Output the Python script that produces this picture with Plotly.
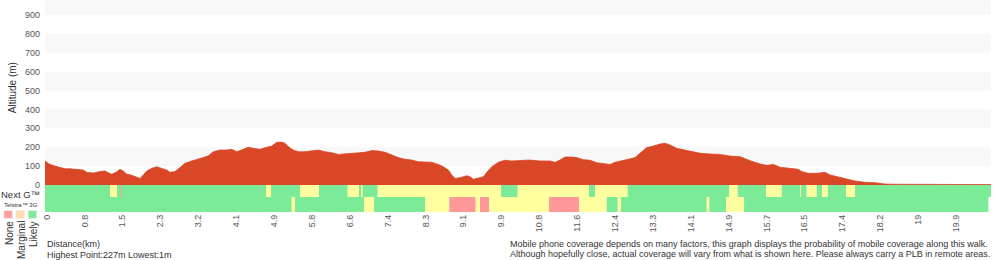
import plotly.graph_objects as go

# ---------------- data ----------------
elev_km = [0.000, 0.109, 0.219, 0.328, 0.438, 0.547, 0.656, 0.766, 0.839, 0.912,
           1.057, 1.204, 1.313, 1.386, 1.460, 1.554, 1.641, 1.713, 1.786, 1.897,
           2.006, 2.079, 2.151, 2.226, 2.335, 2.444, 2.554, 2.663, 2.735, 2.845,
           2.954, 3.064, 3.210, 3.355, 3.464, 3.574, 3.683, 3.830, 3.976, 4.086,
           4.195, 4.340, 4.449, 4.558, 4.705, 4.852, 4.961, 5.070, 5.180, 5.252,
           5.324, 5.434, 5.543, 5.690, 5.836, 5.981, 6.127, 6.274, 6.418, 6.565,
           6.712, 6.856, 7.002, 7.149, 7.294, 7.440, 7.587, 7.731, 7.878, 8.025,
           8.169, 8.316, 8.462, 8.607, 8.716, 8.826, 8.900, 8.972, 9.082, 9.229,
           9.301, 9.373, 9.483, 9.592, 9.667, 9.776, 9.920, 10.066, 10.213, 10.357,
           10.504, 10.613, 10.832, 11.051, 11.160, 11.270, 11.379, 11.526, 11.635, 11.780,
           11.926, 12.073, 12.217, 12.364, 12.473, 12.620, 12.764, 12.911, 13.058, 13.167,
           13.312, 13.458, 13.568, 13.677, 13.824, 13.968, 14.115, 14.334, 14.553, 14.771,
           14.990, 15.209, 15.428, 15.647, 15.793, 15.938, 16.084, 16.303, 16.485, 16.559,
           16.704, 16.888, 17.069, 17.179, 17.360, 17.544, 17.726, 17.945, 18.164, 18.382,
           18.601, 19.039, 19.476, 19.914, 20.352, 20.702]
elev_m = [127, 109, 100, 95, 86, 86, 83, 83, 79, 67,
          63, 71, 74, 65, 57, 67, 83, 74, 58, 51,
          41, 35, 53, 74, 88, 97, 88, 79, 67, 71,
          92, 115, 127, 136, 145, 155, 176, 185, 185, 189,
          176, 189, 200, 194, 189, 200, 206, 226, 227, 221,
          203, 185, 176, 176, 180, 185, 176, 171, 162, 164,
          168, 168, 173, 182, 180, 173, 159, 145, 136, 132,
          123, 120, 120, 109, 97, 79, 53, 35, 39, 49,
          44, 30, 39, 44, 67, 97, 120, 131, 127, 127,
          131, 132, 127, 127, 120, 132, 148, 148, 145, 134,
          131, 118, 113, 109, 120, 127, 136, 145, 176, 198,
          206, 217, 221, 212, 194, 187, 182, 168, 164, 162,
          153, 150, 129, 111, 104, 109, 94, 88, 83, 71,
          62, 62, 67, 53, 41, 32, 21, 14, 12, 5,
          4, 4, 1, 5, 3, 2]

tick_labels = ["0", "0.8", "1.5", "2.3", "3.2", "4.1", "4.9", "5.8", "6.6", "7.4",
               "8.3", "9.1", "9.9", "10.8", "11.6", "12.4", "13.3", "14.1", "14.9",
               "15.7", "16.5", "17.4", "18.2", "19", "19.9"]

# coverage segments: boundaries in km (n+1) and level per segment (n)
nextg_breaks = [0, 1.422, 1.576, 1.663, 1.685, 4.836, 4.946, 5.580, 5.996, 6.624,
                6.878, 6.915, 6.952, 7.280, 9.979, 10.344, 11.903, 12.035, 12.750,
                14.974, 15.158, 15.777, 16.121, 16.521, 16.543, 16.668, 16.887,
                17.003, 17.128, 17.528, 17.725, 20.702]
nextg_levels = ["Likely", "Marginal", "Likely", "None", "Likely", "Marginal", "Likely",
                "Marginal", "Likely", "Marginal", "Likely", "Marginal", "Likely",
                "Marginal", "Likely", "Marginal", "Likely", "Marginal", "Likely",
                "Marginal", "Likely", "Marginal", "Likely", "Marginal", "Likely",
                "Marginal", "Likely", "Marginal", "Likely", "Marginal", "Likely"]

telstra_breaks = [0, 5.399, 5.471, 6.981, 7.200, 8.316, 8.847, 9.425, 9.519, 9.716,
                  11.029, 11.686, 12.292, 12.533, 12.605, 14.480, 14.537, 14.903,
                  15.297, 20.642]
telstra_levels = ["Likely", "Marginal", "Likely", "Marginal", "Likely", "Marginal",
                  "None", "Marginal", "None", "Marginal", "None", "Marginal", "Likely",
                  "Marginal", "Likely", "Marginal", "Likely", "Marginal", "Likely"]

highest = max(elev_m)
lowest = min(elev_m)

# ---------------- styling / layout ----------------
W, H = 1000, 260
ML, MR, MT, MB = 45, 9, 0, 48
PW = W - ML - MR
PH = H - MT - MB
COV_PX = 27
X_MAX = 20.70
Y_MAX = 979.4
STEP = 19.9 / 24
TICK_SHIFT = 0.037
FONT = "Liberation Sans, Arial, Helvetica, sans-serif"
ELEV_COLOR = "#DA4727"
LEVEL_COLORS = {"Likely": "#7CEB98", "Marginal": "#FFFFA0", "None": "#FF9999"}
ROW1 = (0, 12)
ROW2 = (12, 27)


def px(x):
    return (x - ML) / PW


def py(y):
    return (MT + PH - y) / PH


fig = go.Figure()

fig.add_trace(go.Scatter(
    x=elev_km, y=elev_m, mode="lines", fill="tozeroy",
    line=dict(color=ELEV_COLOR, width=0.8), fillcolor=ELEV_COLOR,
    xaxis="x", yaxis="y", hoverinfo="skip", showlegend=False))


def cov_trace(breaks, levels, row):
    starts = breaks[:-1]
    lengths = [b - a for a, b in zip(breaks[:-1], breaks[1:])]
    return go.Bar(
        orientation="h", base=starts, x=lengths,
        y=[(row[0] + row[1]) / 2] * len(starts), width=row[1] - row[0],
        marker=dict(color=[LEVEL_COLORS[l] for l in levels], line=dict(width=0)),
        xaxis="x", yaxis="y2", hoverinfo="skip", showlegend=False)


fig.add_trace(cov_trace(nextg_breaks, nextg_levels, ROW1))
fig.add_trace(cov_trace(telstra_breaks, telstra_levels, ROW2))

shapes = []
for lo in (100, 300, 500, 700, 900):
    shapes.append(dict(type="rect", xref="x domain", yref="y", x0=0, x1=1,
                       y0=lo, y1=min(lo + 100, Y_MAX), fillcolor="#F8F8F8",
                       line=dict(width=0), layer="below"))
# legend squares
for x0, col in ((4, "#FF9D9D"), (16, "#FFDDA8"), (28.3, "#7CEB98")):
    shapes.append(dict(type="rect", xref="paper", yref="paper",
                       x0=px(x0), x1=px(x0 + 8.3), y0=py(218.3), y1=py(210.7),
                       fillcolor=col, line=dict(width=0.6, color="#E8E8E8")))

TXT = "#333333"


def note(text, x, y, size, xanchor="left", yanchor="middle", angle=0, color=TXT):
    return dict(text=text, x=px(x), y=py(y), xref="paper", yref="paper",
                xanchor=xanchor, yanchor=yanchor, textangle=angle, showarrow=False,
                font=dict(family=FONT, size=size, color=color), borderpad=0)


annotations = [
    note("Altitude (m)", 12.7, 87.5, 10, xanchor="center", angle=-90),
    note("Next G™", 0, 194, 9.5, xanchor="left"),
    note("Telstra™ 3G", 3, 204.8, 6, xanchor="left"),
    note("None", 9, 220, 10, xanchor="center", yanchor="top", angle=-90),
    note("Marginal", 21, 220, 10, xanchor="center", yanchor="top", angle=-90),
    note("Likely", 33, 220, 10, xanchor="center", yanchor="top", angle=-90),
    note("Distance(km)", 46, 244, 9),
    note(f"Highest Point:{highest}m Lowest:{lowest}m", 46, 254.5, 9),
    note("Mobile phone coverage depends on many factors, this graph displays the "
         "probability of mobile coverage along this walk.", 509, 243.5, 9),
    note("Although hopefully close, actual coverage will vary from what is shown "
         "here. Please always carry a PLB in remote areas.", 509, 254, 9),
]

cov_frac = COV_PX / PH
fig.update_layout(
    width=W, height=H, autosize=False,
    margin=dict(l=ML, r=MR, t=MT, b=MB, pad=0),
    paper_bgcolor="white", plot_bgcolor="white",
    barmode="overlay", showlegend=False,
    font=dict(family=FONT, color=TXT),
    xaxis=dict(range=[0, X_MAX], anchor="y2", domain=[0, 1],
               tickvals=[i * STEP + TICK_SHIFT for i in range(len(tick_labels))],
               ticktext=tick_labels, tickangle=-90, ticks="",
               tickfont=dict(family=FONT, size=9, color="#555555"),
               showgrid=False, zeroline=False, showline=False, fixedrange=True),
    yaxis=dict(range=[0, Y_MAX], domain=[cov_frac, 1], anchor="x",
               tick0=0, dtick=100, ticks="", showgrid=False, zeroline=False,
               showline=False, ticklabelstandoff=4,
               tickfont=dict(family=FONT, size=9, color="#555555")),
    yaxis2=dict(range=[ROW2[1], ROW1[0]], domain=[0, cov_frac], anchor="x",
                showticklabels=False, showgrid=False, zeroline=False,
                showline=False, ticks=""),
    shapes=shapes, annotations=annotations,
)

fig.write_html("out.html")
